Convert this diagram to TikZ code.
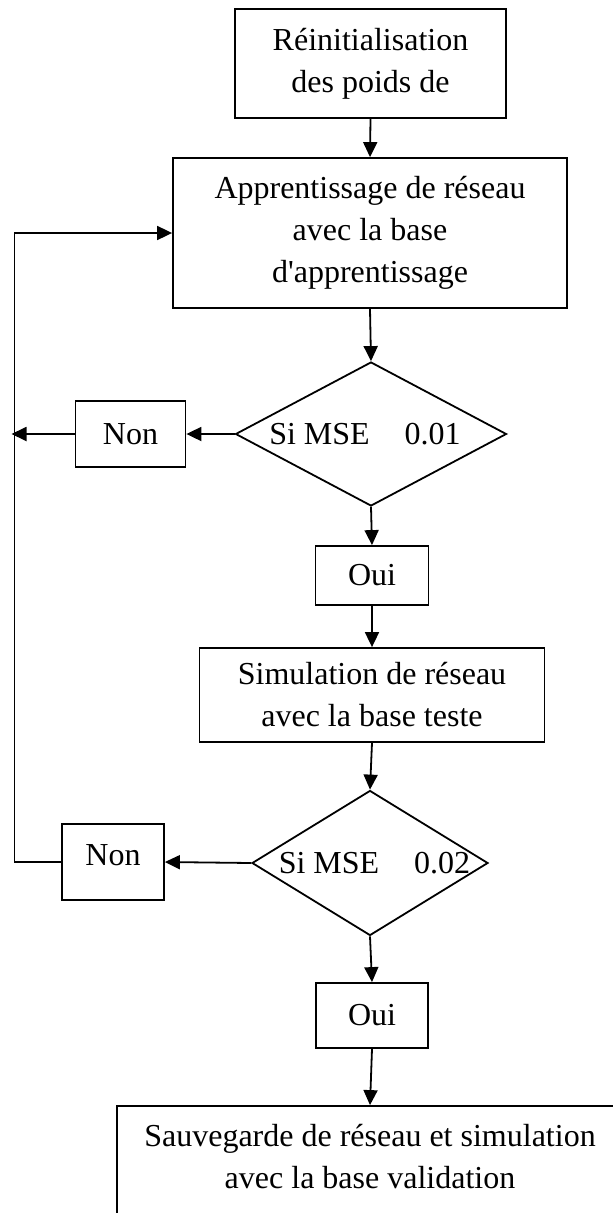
\documentclass[tikz,border=0pt]{standalone}
\usepackage{fontspec}
\setmainfont{Liberation Serif}
\usetikzlibrary{arrows.meta,shapes.geometric}

\begin{document}
\begin{tikzpicture}[x=1pt,y=-1pt,
  every node/.style={font=\fontsize{32}{42}\selectfont, align=center},
  stepbox/.style={draw, line width=1.8pt, inner sep=0pt},
  testbox/.style={draw, line width=1.8pt, shape=diamond, inner sep=0pt},
  arr/.style={line width=1.8pt, -{Triangle[length=15pt,width=14pt]}},
  link/.style={line width=1.8pt}]
\useasboundingbox (0,0) rectangle (613,1213);
\clip (0,0) rectangle (613,1213);

% process boxes
\node[stepbox, minimum width=271pt, minimum height=109pt] (init) at (370.5,63.5)
  {Réinitialisation\\des poids de};
\node[stepbox, minimum width=394pt, minimum height=150pt] (learn) at (370,233)
  {Apprentissage de réseau\\avec la base\\d\textquotesingle apprentissage};

% first test
\node[testbox, minimum width=271pt, minimum height=144pt] (q1) at (371,434) {};
\node (q1t) at (365,434) {Si MSE\hspace{35pt}0.01};
\node[stepbox, minimum width=110pt, minimum height=66pt] (no1) at (130.5,434) {Non};
\node[stepbox, minimum width=113pt, minimum height=59pt] (yes1) at (372,575.5) {Oui};

\node[stepbox, minimum width=345pt, minimum height=94pt] (sim) at (372,695)
  {Simulation de réseau\\avec la base teste};

% second test
\node[testbox, minimum width=236pt, minimum height=145pt] (q2) at (370,863) {};
\node (q2t) at (374.5,863) {Si MSE\hspace{35pt}0.02};
\node[stepbox, minimum width=102pt, minimum height=76pt] (no2) at (113,862) {};
\node (no2t) at (113,855) {Non};
\node[stepbox, minimum width=112pt, minimum height=65pt] (yes2) at (372,1015.5) {Oui};

% last box runs past the page edge
\node[stepbox, minimum width=506pt, minimum height=124pt] (save) at (370,1168) {};
\node (savet) at (370,1157) {Sauvegarde de réseau et simulation\\avec la base validation};

% feedback rail on the left
\coordinate (rail) at (14.5,233);

% connectors
\draw[arr] (init.south) -- (learn.north);
\draw[arr] (learn.south) -- (q1.north);
\draw[arr] (q1.west) -- (no1.east);
\draw[arr] (no1.west) -- ([xshift=-3pt]no1.west -| rail);
\draw[arr] (q1.south) -- (yes1.north);
\draw[arr] (yes1.south) -- (sim.north);
\draw[arr] (sim.south) -- (q2.north);
\draw[arr] (q2.west) -- (no2.east);
\draw[arr] (no2.west) -- (no2.west -| rail) -- (rail) -- (learn.west);
\draw[link] (rail) -- (rail |- no1.west);
\draw[arr] (q2.south) -- (yes2.north);
\draw[arr] (yes2.south) -- (save.north);
\end{tikzpicture}
\end{document}
